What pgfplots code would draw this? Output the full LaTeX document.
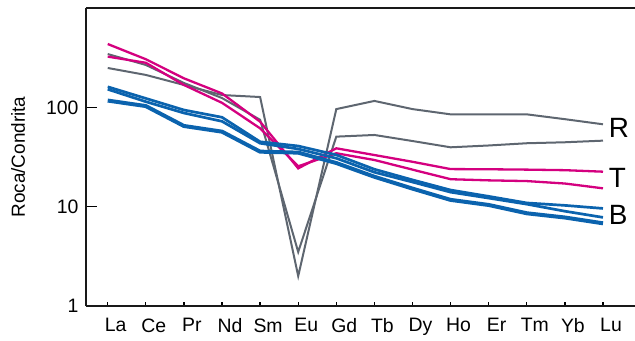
\documentclass[border=0pt]{standalone}
\usepackage{pgfplots}
\pgfplotsset{compat=1.18}
\usepackage{fontspec}
\setmainfont{Liberation Sans}
\definecolor{rgray}{HTML}{5E6670}
\definecolor{tpink}{HTML}{D4007F}
\definecolor{bblue}{HTML}{0B63AE}
\begin{document}
\begin{tikzpicture}
\begin{axis}[
  scale only axis,
  width=549bp, height=298bp,
  ymode=log, ymin=1, ymax=1000,
  xmin=-0.57, xmax=13.84,
  axis x line*=box, axis y line*=left,
  axis line style={line width=1.5bp, color=black!90},
  xtick={0,...,13},
  xticklabels={La,Ce,Pr,Nd,Sm,Eu,Gd,Tb,Dy,Ho,Er,Tm,Yb,Lu},
  ytick={1,10,100},
  yticklabels={1,10,100},
  yminorticks=false,
  tick align=inside,
  xtick pos=bottom, ytick pos=left,
  major tick length=10.7bp,
  xtick style={/pgfplots/major tick length=4.5bp},
  tick style={line width=1.3bp, color=black},
  /pgf/number format/assume math mode=true,
  tick label style={font=\fontsize{19.5}{23}\selectfont},
  xticklabel style={yshift=-9bp, xshift=8bp},
  yticklabel style={xshift=-4bp},
  ylabel={Roca/Condrita},
  every axis y label/.style={at={(rel axis cs:0,0.5)}, rotate=90, anchor=center, yshift=68bp, font=\fontsize{19}{23}\selectfont},
  clip=false,
]
\coordinate (sw) at (rel axis cs:0,0);
% Gray R
\addplot[rgray, line width=2bp] coordinates {
(0,249) (1,212) (2,168) (3,133) (4,127) (5,2.0) (6,96) (7,116) (8,96) (9,85) (10,85) (11,85) (12,76) (13,67.5)};
\addplot[rgray, line width=2bp] coordinates {
(0,344) (1,267) (2,176) (3,124) (4,75) (5,3.5) (6,50.7) (7,52.7) (8,45.8) (9,39.6) (10,41.3) (11,43.5) (12,44.5) (13,46.2)};
% Pink T
\addplot[tpink, line width=2.3bp] coordinates {
(0,434) (1,305) (2,196) (3,138) (4,71.7) (5,24.3) (6,38.7) (7,33.1) (8,28.3) (9,23.9) (10,23.8) (11,23.6) (12,23.3) (13,22.5)};
\addplot[tpink, line width=2.3bp] coordinates {
(0,324) (1,281) (2,168) (3,111) (4,61.5) (5,25.5) (6,34.5) (7,29.5) (8,23.6) (9,18.9) (10,18.4) (11,18.1) (12,17.1) (13,15.3)};
% Blue B
\addplot[bblue, line width=2.7bp] coordinates {
(0,161) (1,123) (2,94) (3,79.4) (4,45) (5,40.8) (6,33.2) (7,23.8) (8,18.6) (9,14.7) (10,12.7) (11,10.9) (12,10.3) (13,9.6)};
\addplot[bblue, line width=2.7bp] coordinates {
(0,152) (1,114) (2,87.7) (3,72.3) (4,43.5) (5,38.1) (6,30.7) (7,22.2) (8,17.7) (9,14.0) (10,12.2) (11,10.6) (12,9.0) (13,7.8)};
\addplot[bblue, line width=4bp] coordinates {
(0,117) (1,103) (2,64.9) (3,56.9) (4,35.8) (5,35) (6,27.5) (7,20) (8,15.2) (9,11.7) (10,10.4) (11,8.58) (12,7.78) (13,6.8)};
\node[anchor=west, inner sep=0pt, font=\fontsize{28}{32}\selectfont] at (axis cs:13.15,62) {R};
\node[anchor=west, inner sep=0pt, font=\fontsize{28}{32}\selectfont] at (axis cs:13.15,19.4) {T};
\node[anchor=west, inner sep=0pt, font=\fontsize{28}{32}\selectfont] at (axis cs:13.15,8.24) {B};
\end{axis}
\path (sw) ++(-86bp,-35bp) coordinate (bba) ++(635bp,341bp) coordinate (bbb);
\pgfresetboundingbox
\useasboundingbox (bba) rectangle (bbb);
\end{tikzpicture}
\end{document}
